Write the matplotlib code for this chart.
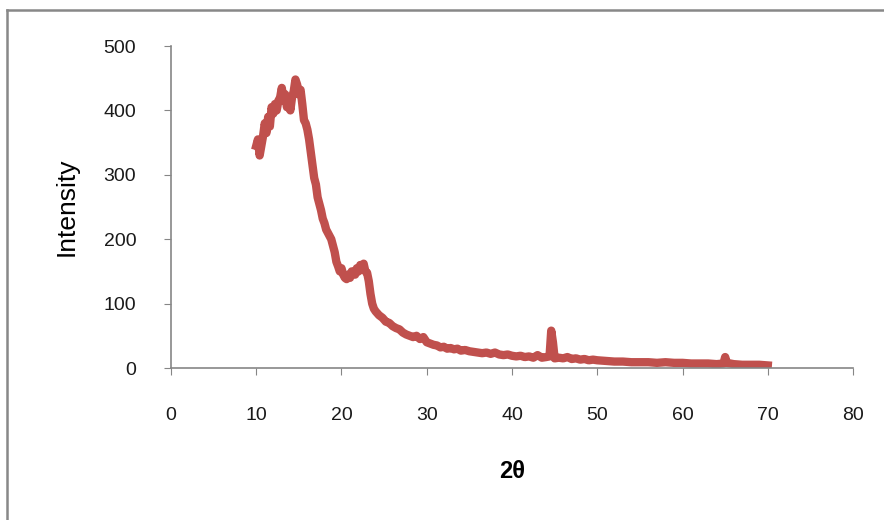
import matplotlib.pyplot as plt
from matplotlib.lines import Line2D

# 2-theta values (deg) and intensity
two_theta = [
    10.0, 10.2, 10.4, 10.6, 10.8, 11.0, 11.2, 11.4, 11.6, 11.8,
    12.0, 12.2, 12.4, 12.6, 12.8, 13.0, 13.2, 13.4, 13.6, 13.8,
    14.0, 14.2, 14.4, 14.6, 14.8, 15.0, 15.2, 15.4, 15.6, 15.8,
    16.0, 16.2, 16.4, 16.6, 16.8, 17.0, 17.2, 17.4, 17.6, 17.8,
    18.0, 18.2, 18.4, 18.6, 18.8, 19.0, 19.2, 19.4, 19.6, 19.8,
    20.0, 20.2, 20.4, 20.6, 20.8, 21.0, 21.2, 21.4, 21.6, 21.8,
    22.0, 22.2, 22.4, 22.6, 22.8, 23.0, 23.2, 23.4, 23.6, 23.8,
    24.0, 24.4, 24.8, 25.2, 25.6, 26.0, 26.4, 26.8, 27.2, 27.6,
    28.0, 28.4, 28.8, 29.2, 29.6, 30.0, 30.4, 30.8, 31.2, 31.6,
    32.0, 32.4, 32.8, 33.2, 33.6, 34.0, 34.5, 35.0, 35.5, 36.0,
    36.5, 37.0, 37.5, 38.0, 38.5, 39.0, 39.5, 40.0, 40.5, 41.0,
    41.5, 42.0, 42.5, 43.0, 43.5, 44.0, 44.4, 44.6, 44.8, 45.0,
    45.5, 46.0, 46.5, 47.0, 47.5, 48.0, 48.5, 49.0, 49.5, 50.0,
    51.0, 52.0, 53.0, 54.0, 55.0, 56.0, 57.0, 58.0, 59.0, 60.0,
    61.0, 62.0, 63.0, 64.0, 64.8, 65.0, 65.2, 66.0, 67.0, 68.0,
    69.0, 70.0,
]
intensity = [
    345, 355, 330, 345, 360, 380, 365, 390, 375, 405,
    395, 410, 400, 415, 420, 435, 415, 425, 405, 415,
    400, 420, 430, 448, 440, 425, 432, 410, 385, 380,
    370, 355, 335, 315, 295, 285, 265, 255, 245, 232,
    225, 215, 210, 205, 200, 190, 180, 165, 158, 150,
    155, 145, 140, 138, 145, 140, 150, 148, 145, 155,
    150, 160, 155, 162, 150, 148, 135, 115, 100, 92,
    88, 82, 78, 72, 70, 65, 62, 60, 55, 52,
    50, 48, 50, 45, 48, 40, 38, 36, 35, 32,
    33, 30, 31, 29, 30, 27, 28, 26, 25, 24,
    23, 24, 22, 24, 21, 20, 21, 19, 18, 19,
    17, 18, 16, 20, 16, 17, 18, 58, 40, 15,
    16, 15, 17, 14, 15, 13, 14, 12, 13, 12,
    11, 10, 10, 9, 9, 9, 8, 9, 8, 8,
    7, 7, 7, 6, 7, 17, 8, 6, 5, 5,
    5, 4,
]

plt.rcParams['font.family'] = ['Liberation Sans', 'DejaVu Sans']

fig = plt.figure(figsize=(8.84, 5.2), dpi=100)
ax = fig.add_axes([0.1934, 0.2923, 0.7716, 0.6192])

ax.plot(two_theta, intensity, color='#C0504D', linewidth=6, solid_joinstyle='round')

ax.set_xlim(0, 80)
ax.set_ylim(0, 500)
ax.set_xticks(range(0, 81, 10))
ax.set_yticks(range(0, 501, 100))

for side in ['top', 'right']:
    ax.spines[side].set_visible(False)
for side in ['bottom', 'left']:
    ax.spines[side].set_color('#868686')
    ax.spines[side].set_linewidth(1.2)

ax.tick_params(axis='x', direction='out', length=5, color='#868686', pad=23,
               labelsize=14, labelcolor='#1a1a1a')
ax.tick_params(axis='y', direction='out', length=5, color='#868686', pad=20,
               labelsize=14, labelcolor='#1a1a1a')

ax.set_ylabel('Intensity', fontsize=19, labelpad=18)
ax.set_xlabel('2θ', fontsize=17, fontweight='bold', labelpad=26)

# outer frame of the chart area
fig.add_artist(Line2D([7/884, 7/884], [0, 1 - 10/520], color='#888888', linewidth=1.8))
fig.add_artist(Line2D([7/884, 1], [1 - 10/520, 1 - 10/520], color='#888888', linewidth=1.8))

fig.savefig('out.png', dpi=100)
